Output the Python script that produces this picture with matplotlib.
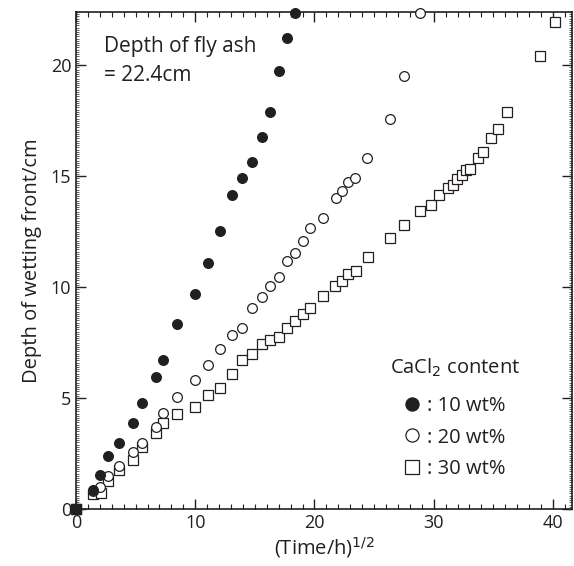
import matplotlib
matplotlib.use("Agg")
import matplotlib.pyplot as plt
from matplotlib.ticker import MultipleLocator, NullLocator, NullFormatter

plt.rcParams['font.family'] = ['Open Sans', 'DejaVu Sans']

# CaCl2 10 wt%
x10 = [0, 1.4, 2.0, 2.7, 3.6, 4.8, 5.5, 6.7, 7.3, 8.5, 10.0, 11.05, 12.05, 13.1,
       13.9, 14.8, 15.6, 16.3, 17.0, 17.7, 18.35]
y10 = [0, 0.86, 1.55, 2.37, 2.97, 3.86, 4.76, 5.96, 6.71, 8.35, 9.67, 11.08, 12.52,
       14.16, 14.9, 15.65, 16.77, 17.9, 19.74, 21.23, 22.36]

# CaCl2 20 wt%
x20 = [0, 1.4, 2.0, 2.7, 3.6, 4.8, 5.5, 6.7, 7.3, 8.5, 10.0, 11.05, 12.05, 13.1,
       13.9, 14.8, 15.6, 16.3, 17.0, 17.7, 18.35, 19.0, 19.6, 20.7, 21.8, 22.3,
       22.85, 23.4, 24.4, 26.3, 27.5, 28.85]
y20 = [0, 0.8, 0.98, 1.47, 1.94, 2.57, 2.96, 3.71, 4.31, 5.06, 5.81, 6.47, 7.22, 7.82,
       8.18, 9.08, 9.54, 10.06, 10.44, 11.18, 11.55, 12.06, 12.66, 13.11, 14.0, 14.31,
       14.74, 14.9, 15.8, 17.58, 19.52, 22.36]

# CaCl2 30 wt%
x30 = [0, 1.4, 2.1, 2.7, 3.6, 4.8, 5.5, 6.7, 7.3, 8.5, 10.0, 11.05, 12.05, 13.1,
       13.9, 14.8, 15.6, 16.3, 17.0, 17.7, 18.35, 19.0, 19.65, 20.7, 21.75, 22.35,
       22.85, 23.45, 24.45, 26.3, 27.5, 28.85, 29.75, 30.45, 31.2, 31.6, 31.95,
       32.4, 32.75, 33.05, 33.75, 34.15, 34.8, 35.4, 36.15, 38.95, 40.2]
y30 = [0, 0.69, 0.72, 1.26, 1.76, 2.2, 2.81, 3.41, 3.86, 4.29, 4.61, 5.14, 5.44, 6.1,
       6.7, 7.0, 7.43, 7.6, 7.73, 8.18, 8.48, 8.78, 9.08, 9.61, 10.03, 10.27, 10.6,
       10.72, 11.35, 12.22, 12.79, 13.42, 13.7, 14.16, 14.46, 14.62, 14.86, 15.05,
       15.26, 15.33, 15.8, 16.08, 16.7, 17.13, 17.88, 20.43, 21.97]

labels = [": 10 wt%", ": 20 wt%", ": 30 wt%"]
ink = "#231f20"

fig = plt.figure(figsize=(5.74, 5.66), dpi=100)
pos = [0.1324, 0.1007, 0.8641, 0.8781]
ax = fig.add_axes(pos)

ax.plot(x30, y30, ls="none", marker="s", ms=7.5, mfc="white", mec=ink, mew=0.9,
        label=labels[2], clip_on=False, zorder=3)
ax.plot(x20, y20, ls="none", marker="o", ms=7, mfc="white", mec=ink, mew=0.9,
        label=labels[1], clip_on=False, zorder=4)
ax.plot(x10, y10, ls="none", marker="o", ms=7, mfc=ink, mec=ink, mew=0.9,
        label=labels[0], clip_on=False, zorder=5)
# all three series start at the origin -> drawn as one solid square
ax.plot(x30[:1], y30[:1], ls="none", marker="s", ms=7.5, mfc=ink, mec=ink,
        clip_on=False, zorder=6)

ax.set_xlim(0, 41.6)
ax.set_ylim(0, 22.4)

ax.xaxis.set_major_locator(MultipleLocator(10))
ax.xaxis.set_minor_locator(MultipleLocator(1))
ax.yaxis.set_major_locator(MultipleLocator(5))
ax.yaxis.set_minor_locator(MultipleLocator(0.1))
ax.tick_params(which="both", direction="in", top=True, right=True, color=ink,
               labelcolor=ink, labelsize=13)
ax.tick_params(which="major", length=7, width=1)
ax.tick_params(axis="x", which="minor", length=3.5, width=0.8)
ax.tick_params(axis="y", which="minor", length=2, width=0.5)
for s in ax.spines.values():
    s.set_color(ink)
    s.set_linewidth(1.2)

# overlay for the medium ticks (x every 5, y every 1)
ax2 = fig.add_axes(pos, frameon=False)
ax2.set_xlim(ax.get_xlim())
ax2.set_ylim(ax.get_ylim())
ax2.xaxis.set_major_locator(MultipleLocator(5))
ax2.yaxis.set_major_locator(MultipleLocator(1))
ax2.xaxis.set_minor_locator(NullLocator())
ax2.yaxis.set_minor_locator(NullLocator())
ax2.xaxis.set_major_formatter(NullFormatter())
ax2.yaxis.set_major_formatter(NullFormatter())
ax2.tick_params(direction="in", top=True, right=True, length=5, width=0.9, color=ink)
ax2.patch.set_visible(False)
ax2.set_zorder(-1)

ax.set_xlabel("(Time/h)$^{1/2}$", fontsize=14.5, color=ink, labelpad=2)
ax.set_ylabel("Depth of wetting front/cm", fontsize=14.5, color=ink, labelpad=6)

ax.text(0.056, 0.951, "Depth of fly ash\n= 22.4cm", transform=ax.transAxes,
        ha="left", va="top", fontsize=15, color=ink, linespacing=1.5)

ax.text(0.633, 0.284, "CaCl$_2$ content", transform=ax.transAxes,
        ha="left", va="center", fontsize=14.5, color=ink)

h, l = ax.get_legend_handles_labels()
order = [2, 1, 0]
leg = ax.legend([h[i] for i in order], [l[i] for i in order],
                loc="lower left", bbox_to_anchor=(0.661, 0.06), frameon=False,
                fontsize=14.5, markerscale=1.35, handlelength=0.8,
                handletextpad=0.35, labelspacing=0.58, borderpad=0,
                borderaxespad=0)
for t in leg.get_texts():
    t.set_color(ink)

fig.savefig("out.png", dpi=100)
